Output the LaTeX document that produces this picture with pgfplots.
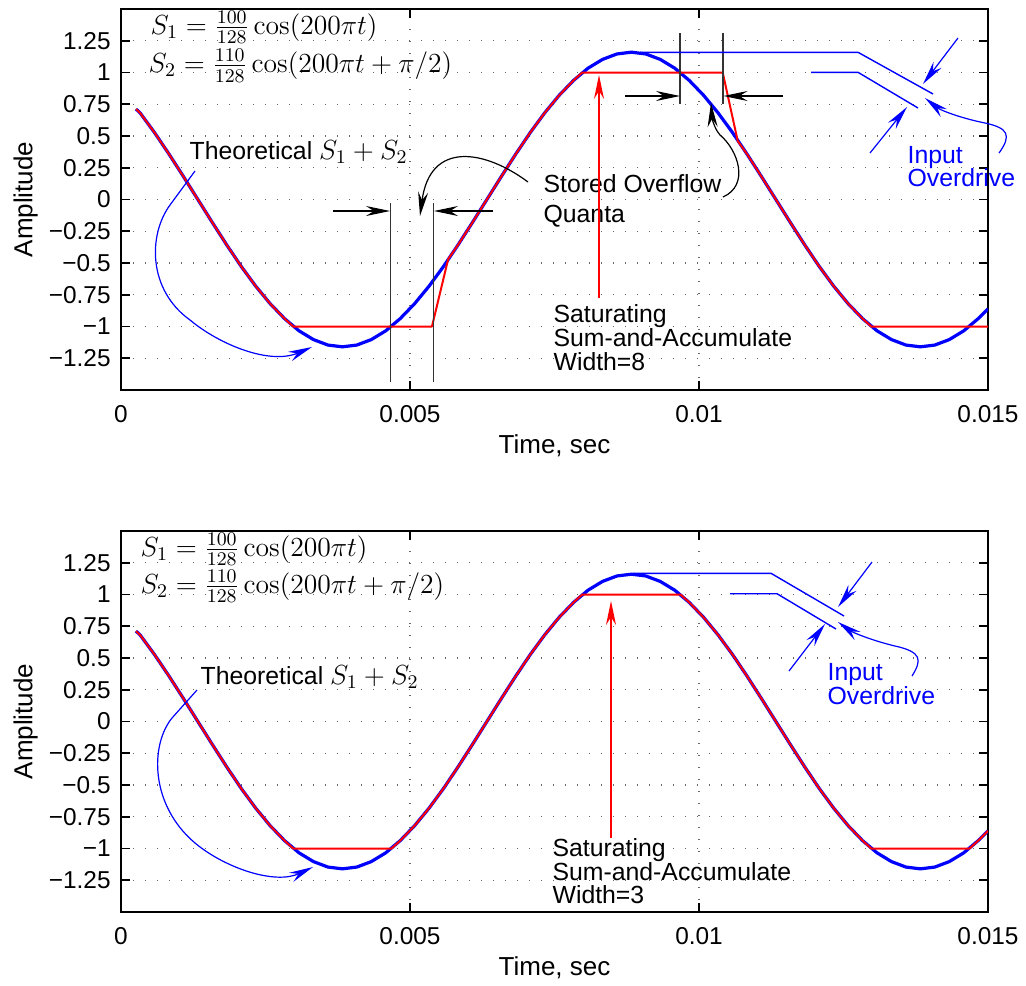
\RequirePackage{fix-cm}
\documentclass[border=0pt]{standalone}
\usepackage[no-math]{fontspec}
\setmainfont{Liberation Sans}
\usepackage{pgfplots}
\usepackage{pgfplotstable}
\pgfplotsset{compat=1.18}
\usetikzlibrary{arrows.meta}

\pgfplotstableread{
t y
0.00026 0.712
0.00033 0.682
0.00058 0.527
0.00083 0.358
0.00108 0.181
0.00133 0.000
0.00158 -0.181
0.00183 -0.358
0.00208 -0.527
0.00233 -0.682
0.00258 -0.820
0.00283 -0.938
0.00308 -1.034
0.00333 -1.103
0.00358 -1.146
0.00383 -1.160
0.00408 -1.146
0.00433 -1.103
0.00458 -1.034
0.00483 -0.938
0.00508 -0.820
0.00533 -0.682
0.00558 -0.527
0.00583 -0.358
0.00608 -0.181
0.00633 0.000
0.00658 0.181
0.00683 0.358
0.00708 0.527
0.00733 0.682
0.00758 0.820
0.00783 0.938
0.00808 1.034
0.00833 1.103
0.00858 1.146
0.00883 1.160
0.00908 1.146
0.00933 1.103
0.00958 1.034
0.00983 0.938
0.01008 0.820
0.01033 0.682
0.01058 0.527
0.01083 0.358
0.01108 0.181
0.01133 0.000
0.01158 -0.181
0.01183 -0.358
0.01208 -0.527
0.01233 -0.682
0.01258 -0.820
0.01283 -0.938
0.01308 -1.034
0.01333 -1.103
0.01358 -1.146
0.01383 -1.160
0.01408 -1.146
0.01433 -1.103
0.01458 -1.034
0.01483 -0.938
0.01500 -0.861
}\theory

\pgfplotstableread{
t y
0.00026 0.712
0.00033 0.682
0.00058 0.527
0.00083 0.358
0.00108 0.181
0.00133 0.000
0.00158 -0.181
0.00183 -0.358
0.00208 -0.527
0.00233 -0.682
0.00258 -0.820
0.00283 -0.938
0.00298 -1.000
0.00538 -1.000
0.00566 -0.470
0.00583 -0.358
0.00608 -0.181
0.00633 0.000
0.00658 0.181
0.00683 0.358
0.00708 0.527
0.00733 0.682
0.00758 0.820
0.00783 0.938
0.00798 1.000
0.01041 1.000
0.01067 0.460
0.01083 0.358
0.01108 0.181
0.01133 0.000
0.01158 -0.181
0.01183 -0.358
0.01208 -0.527
0.01233 -0.682
0.01258 -0.820
0.01283 -0.938
0.01298 -1.000
0.01500 -1.000
}\sateight

\pgfplotstableread{
t y
0.00026 0.712
0.00033 0.682
0.00058 0.527
0.00083 0.358
0.00108 0.181
0.00133 0.000
0.00158 -0.181
0.00183 -0.358
0.00208 -0.527
0.00233 -0.682
0.00258 -0.820
0.00283 -0.938
0.00298 -1.000
0.00468 -1.000
0.00483 -0.938
0.00508 -0.820
0.00533 -0.682
0.00558 -0.527
0.00583 -0.358
0.00608 -0.181
0.00633 0.000
0.00658 0.181
0.00683 0.358
0.00708 0.527
0.00733 0.682
0.00758 0.820
0.00783 0.938
0.00798 1.000
0.00968 1.000
0.00983 0.938
0.01008 0.820
0.01033 0.682
0.01058 0.527
0.01083 0.358
0.01108 0.181
0.01133 0.000
0.01158 -0.181
0.01183 -0.358
0.01208 -0.527
0.01233 -0.682
0.01258 -0.820
0.01283 -0.938
0.01298 -1.000
0.01468 -1.000
0.01483 -0.938
0.01500 -0.861
}\satthree

\pgfplotsset{
  myax/.style={
    scale only axis, width=433.5pt, height=190.5pt,
    xmin=0, xmax=0.015, ymin=-1.5, ymax=1.5,
    xtick={0,0.005,0.01,0.015},
    xticklabels={0,0.005,0.01,0.015},
    scaled x ticks=false,
    ytick={-1.25,-1,-0.75,-0.5,-0.25,0,0.25,0.5,0.75,1,1.25},
    yticklabels={−1.25,−1,−0.75,−0.5,−0.25,0,0.25,0.5,0.75,1,1.25},
    tick align=inside, major tick length=4.5pt,
    major tick style={black, line width=0.8pt},
    grid=major,
    major grid style={black!60, line width=0.6pt, dash pattern=on 0.6pt off 5.4pt},
    axis line style={black, line width=0.8pt},
    tick label style={font=\fontsize{12.2}{14}\selectfont},
    xticklabel style={anchor=base, inner sep=0pt, yshift=-16.4pt},
    yticklabel style={anchor=east, inner sep=0pt, xshift=-5pt},
    xlabel={Time, sec}, ylabel={Amplitude},
    every axis x label/.style={at={(axis description cs:0.5,-0.1661)}, anchor=base, font=\fontsize{13}{15}\selectfont},
    every axis y label/.style={at={(axis description cs:-0.1023,0.5)}, rotate=90, anchor=base, font=\fontsize{13}{15}\selectfont},
  }
}

\newcommand{\mathsz}{\fontsize{13.8}{16}\selectfont}

\tikzset{
  arr/.style={-{Stealth[length=12pt,width=5pt,inset=4pt]}},
  thin line/.style={line width=0.6pt},
  txt/.style={anchor=base west, inner sep=0pt, font=\fontsize{12.4}{14}\selectfont},
}

\begin{document}
\begin{tikzpicture}
\begin{scope}[x=0.5pt,y=-0.5pt]
\useasboundingbox (0,0) rectangle (1026,981);
\end{scope}

% ---------- top axis ----------
\begin{axis}[myax, at={(60.5pt,-195pt)}, anchor=south west]
\addplot[blue, line width=1.6pt, line join=round] table[x=t,y=y] {\theory};
\addplot[red, line width=1pt, line join=round] table[x=t,y=y] {\sateight};
\end{axis}

% ---------- bottom axis ----------
\begin{axis}[myax, at={(60.5pt,-456pt)}, anchor=south west]
\addplot[blue, line width=1.6pt, line join=round] table[x=t,y=y] {\theory};
\addplot[red, line width=1pt, line join=round] table[x=t,y=y] {\satthree};
\end{axis}

% ---------- annotations (pixel units) ----------
\begin{scope}[x=0.5pt,y=-0.5pt, thin line]
% top
\node[txt] at (150,34) {\mathsz$S_1=\frac{100}{128}\cos(200\pi t)$};
\node[txt] at (148,72.5) {\mathsz$S_2=\frac{110}{128}\cos(200\pi t+\pi/2)$};
\node[txt] at (189,159.3) {Theoretical {\mathsz$S_1+S_2$}};
\node[txt] at (543,192.7) {Stored Overflow};
\node[txt] at (543,222) {Quanta};
\node[txt] at (553,322.3) {Saturating};
\node[txt] at (553,346.7) {Sum-and-Accumulate};
\node[txt] at (553,370) {Width=8};
\node[txt, blue] at (907,163) {Input};
\node[txt, blue] at (907,186.5) {Overdrive};

\draw[black!80] (390.5,203)--(390.5,382) (433.3,203)--(433.3,382);
\draw[arr] (333,211)--(390,211);
\draw[arr] (493,211)--(434,211);
\draw[arr] (528,182) .. controls (485,150) and (430,140) .. (420,216);
\draw[black!80] (680,33)--(680,104) (723,33)--(723,104);
\draw[arr] (625,96)--(680,96);
\draw[arr] (783,96)--(723.5,96);
\draw[arr] (723,197) .. controls (750,185) and (738,150) .. (720,135) .. controls (714,128) and (712,118) .. (711,103);
\draw[red, arr] (599,298)--(599,75);
\draw[blue, line width=0.7pt] (640,52.3)--(858,52.3)--(933,94);
\draw[blue, line width=0.7pt] (811,72.3)--(858,72.3)--(918,108);
\draw[blue, arr] (958,38)--(923,84);
\draw[blue, arr] (870,153)--(907,107);
\draw[blue, arr] (999,153) .. controls (1012,135) and (1008,128) .. (985,123) .. controls (960,118) and (940,110) .. (925,98);
\draw[blue, arr] (195,171)--(170,205) .. controls (148,235) and (148,290) .. (190,320) .. controls (220,345) and (270,365) .. (312,347);

% bottom
\node[txt] at (140,556) {\mathsz$S_1=\frac{100}{128}\cos(200\pi t)$};
\node[txt] at (140,593) {\mathsz$S_2=\frac{110}{128}\cos(200\pi t+\pi/2)$};
\node[txt] at (200,684) {Theoretical {\mathsz$S_1+S_2$}};
\node[txt] at (552,856) {Saturating};
\node[txt] at (552,880) {Sum-and-Accumulate};
\node[txt] at (552,903.3) {Width=3};
\node[txt, blue] at (827,680) {Input};
\node[txt, blue] at (827,704) {Overdrive};

\draw[red, arr] (611,838)--(611,601);
\draw[blue, line width=0.7pt] (633,573.3)--(771,573.3)--(844,616);
\draw[blue, line width=0.7pt] (730,593.7)--(777,593.7)--(836,629);
\draw[blue, arr] (872,562)--(838,607);
\draw[blue, arr] (789,671)--(825,624);
\draw[blue, arr] (912,676) .. controls (922,660) and (922,652) .. (895,646) .. controls (870,640) and (852,632) .. (838,622);
\draw[blue, arr] (197,690)--(172,718) .. controls (150,745) and (150,805) .. (195,843) .. controls (225,868) and (275,885) .. (313,867);
\end{scope}
\end{tikzpicture}
\end{document}
